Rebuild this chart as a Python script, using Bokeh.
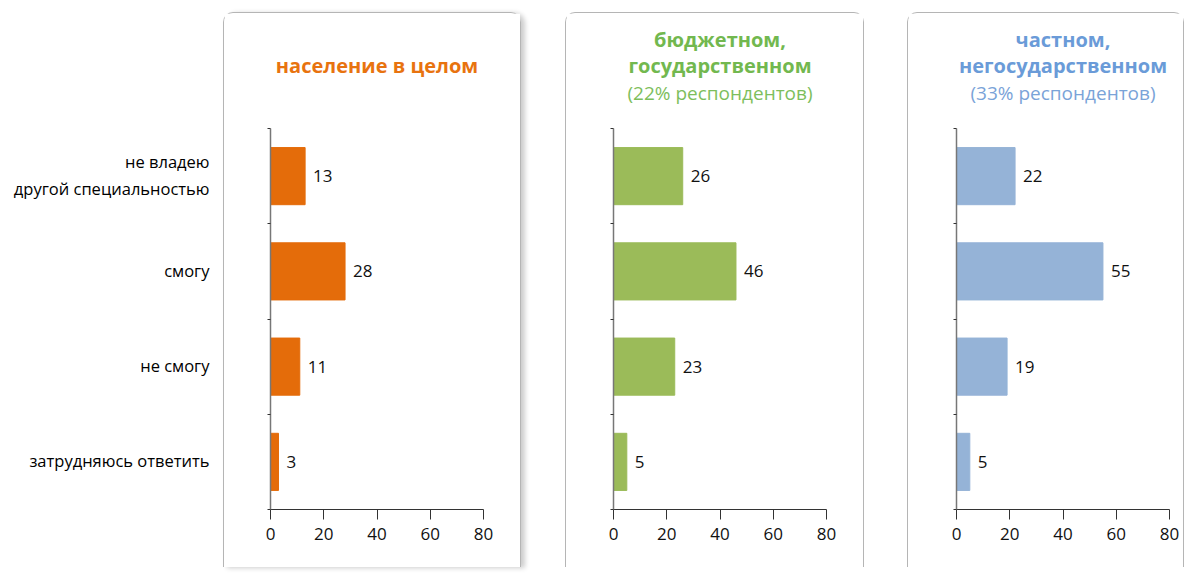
from bokeh.plotting import figure
from bokeh.models import Range1d, FixedTicker, Title, Spacer
from bokeh.layouts import row
from bokeh.core.properties import value
from bokeh.embed import file_html
from bokeh.resources import INLINE

categories = ["не владею\nдругой специальностью", "смогу", "не смогу", "затрудняюсь ответить"]
total_values = [13, 28, 11, 3]
budget_values = [26, 46, 23, 5]
private_values = [22, 55, 19, 5]
x_ticks = [0, 20, 40, 60, 80]

FONT = "Open Sans"
FRAME_H = 380
TOP = 115
BOTTOM = 59
MARGIN_TOP = 12

centers = [i + 0.5 for i in range(len(categories))]
bounds = list(range(len(categories) + 1))


def make_panel(values, color, titles, left, right, width, card_style, pad):
    p = figure(width=width, height=TOP + FRAME_H + BOTTOM,
               frame_width=211, frame_height=FRAME_H,
               x_range=Range1d(0, 80), y_range=Range1d(len(categories), 0),
               output_backend="svg", toolbar_location=None,
               min_border_left=left, min_border_right=right,
               min_border_top=TOP, min_border_bottom=BOTTOM)
    p.margin = (MARGIN_TOP, 0, 0, 0)
    p.styles = card_style
    p.outline_line_color = None
    p.xgrid.visible = False
    p.ygrid.visible = False
    p.hbar(y=centers, right=values, left=0, height=0.6, color=color)
    p.text(x=values, y=centers, text=[str(v) for v in values], x_offset=8,
           text_baseline="middle", text_align="left", text_font=value(FONT),
           text_font_size="17px", text_color="#111111")
    p.xaxis.ticker = FixedTicker(ticks=x_ticks)
    p.xaxis.major_label_text_font = FONT
    p.xaxis.major_label_text_font_size = "17px"
    p.xaxis.major_label_text_color = "#111111"
    p.xaxis.major_tick_in = 0
    p.xaxis.major_tick_out = 10
    p.xaxis.minor_tick_line_color = None
    p.xaxis.axis_line_color = "#333333"
    p.xaxis.major_tick_line_color = "#333333"
    p.xaxis.major_label_standoff = 8
    p.yaxis.ticker = FixedTicker(ticks=bounds)
    p.yaxis.major_label_overrides = {b: "" for b in bounds}
    p.yaxis.major_tick_in = 0
    p.yaxis.major_tick_out = 3
    p.yaxis.minor_tick_line_color = None
    p.yaxis.axis_line_color = "#777777"
    p.yaxis.axis_line_width = 1.5
    p.yaxis.major_tick_line_color = "#333333"
    # white (invisible) spacer title next to the frame, lifts the real titles
    p.add_layout(Title(text=".", text_font_size="2px", standoff=pad,
                       text_color="#ffffff"), "above")
    for text, style, size, col, so in titles:
        p.add_layout(Title(text=text, align="center", text_font=FONT,
                           text_font_style=style, text_font_size=size,
                           text_color=col, standoff=so), "above")
    return p


card_plain = {"border": "1px solid #b5b5b5", "border-bottom": "none",
              "border-radius": "10px 10px 0 0", "box-sizing": "border-box"}
card_shadow = dict(card_plain)
card_shadow["box-shadow"] = "4px 1px 5px rgba(0,0,0,0.2)"

# category labels (outside the cards)
lab = figure(width=216, height=TOP + FRAME_H + BOTTOM, frame_width=2, frame_height=FRAME_H,
             x_range=Range1d(0, 1), y_range=Range1d(len(categories), 0),
             output_backend="svg", toolbar_location=None, x_axis_location=None,
             min_border_left=214, min_border_right=0, min_border_top=TOP, min_border_bottom=BOTTOM)
lab.margin = (MARGIN_TOP, 0, 0, 0)
lab.outline_line_color = None
lab.xgrid.visible = False
lab.ygrid.visible = False
lab.yaxis.ticker = FixedTicker(ticks=centers)
lab.yaxis.major_label_overrides = {c: t for c, t in zip(centers, categories)}
lab.yaxis.axis_line_color = None
lab.yaxis.major_tick_line_color = None
lab.yaxis.minor_tick_line_color = None
lab.yaxis.major_tick_out = 0
lab.yaxis.major_label_standoff = 12
lab.yaxis.major_label_text_font = FONT
lab.yaxis.major_label_text_font_size = "16.5px"
lab.yaxis.major_label_text_color = "#000000"

p1 = make_panel(total_values, "#E46C0A",
                [("население в целом", "bold", "20px", "#E8730F", 0)],
                46, 39, 296, card_shadow, 47)
p2 = make_panel(budget_values, "#9BBB59",
                [("(22% респондентов)", "normal", "19px", "#7DBE5C", 0),
                 ("государственном", "bold", "20px", "#72B84F", -2),
                 ("бюджетном,", "bold", "20px", "#72B84F", -4)],
                47, 39, 297, card_plain, 20)
p3 = make_panel(private_values, "#95B3D7",
                [("(33% респондентов)", "normal", "19px", "#7AA3D8", 0),
                 ("негосударственном", "bold", "20px", "#6A9BD8", -2),
                 ("частном,", "bold", "20px", "#6A9BD8", -4)],
                48, 16, 275, card_plain, 20)

layout = row(Spacer(width=7), lab, p1, Spacer(width=44), p2, Spacer(width=43), p3)
open("out.html", "w").write(file_html(layout, INLINE))
